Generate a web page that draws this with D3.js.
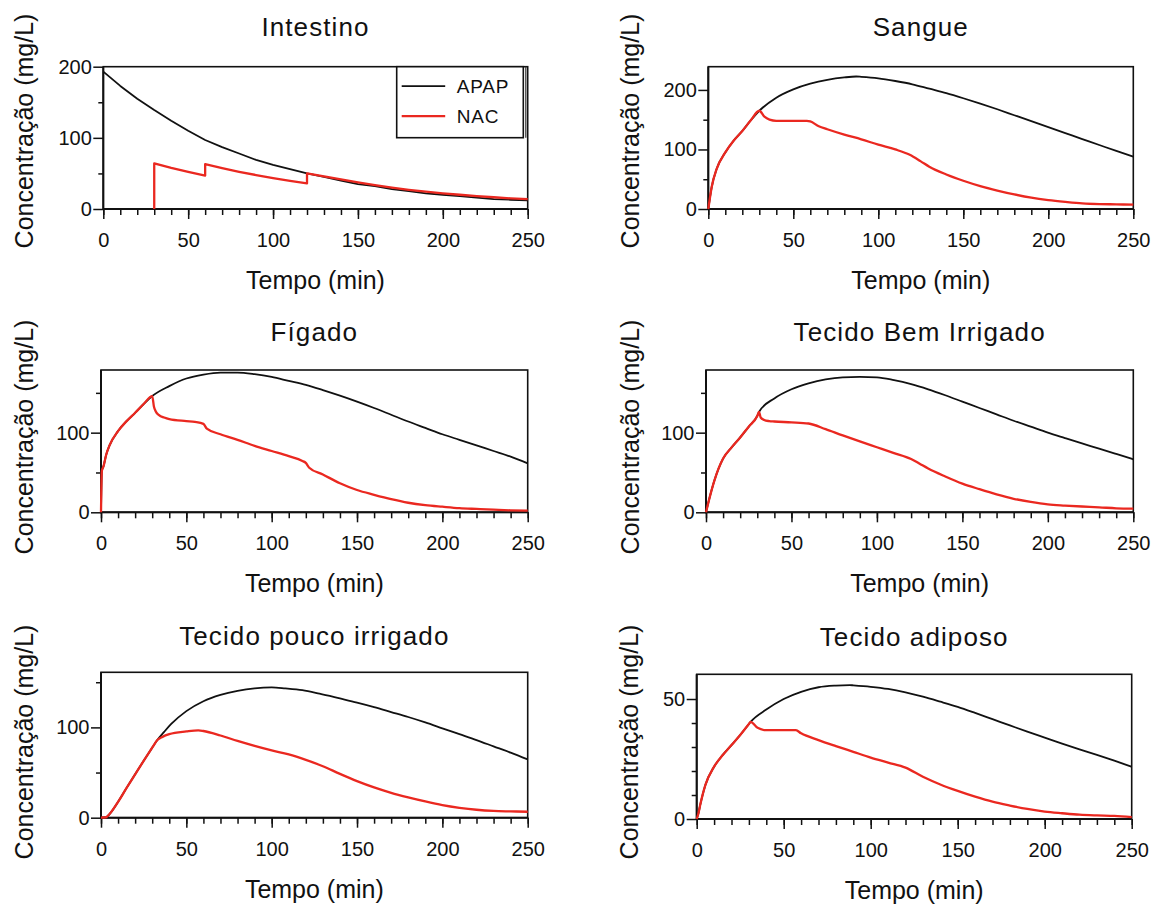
<!DOCTYPE html>
<html>
<head>
<meta charset="utf-8">
<script src="https://cdn.jsdelivr.net/npm/d3@7"></script>
<style>
  body { margin: 0; background: #fff; }
  svg text { font-family: "Liberation Sans", Arial, sans-serif; fill: #111; }
  .tick text { font-size: 20px; }
  .tick line { stroke: #111; stroke-width: 1.5; }
</style>
</head>
<body>
<svg id="chart" width="1162" height="909"></svg>
<script>
// Time axis ticks (min)
const timeTicks = [0, 50, 100, 150, 200, 250];
const minorTimeTicks = [0, 10, 20, 30, 40, 50, 60, 70, 80, 90, 100, 110, 120, 130, 140, 150,
                        160, 170, 180, 190, 200, 210, 220, 230, 240, 250];

// Concentration curves, [tempo (min), concentração (mg/L)]
const intestinoApap = [[0,193],[10,173],[20,155],[30,139],[40,124],[50,110],[60,97],[70,87],[80,78],
  [90,69],[100,62],[110,56],[120,50],[130,45],[140,40],[150,35],[160,32],[170,28],[180,25],[190,22],
  [200,20],[210,18],[220,16],[230,14],[240,13],[250,12]];
const intestinoNac = [[30,0],[30,64],[40,57.7],[50,52.1],[60,47],[60,63],[70,57.4],[80,52.3],[90,47.7],
  [100,43.5],[110,39.6],[120,36],[120,50],[130,46],[140,41.5],[150,37.5],[160,33.5],[170,30],[180,27],
  [190,24.5],[200,22],[210,20],[220,18],[230,16.5],[240,15],[250,14]];

const sangueApap = [[0,0],[2,37],[5,68],[10,95],[15,115],[20,131],[25,149],[30,165],[40,187],[50,201],
  [60,210.5],[70,217],[80,221],[87,222.5],[90,222],[100,219.5],[110,215],[120,209.5],[130,202],
  [140,194.5],[150,186],[160,177],[170,167.5],[180,157.5],[190,147.5],[200,137.5],[210,127.5],
  [220,117.5],[230,107.5],[240,97.5],[250,88]];
const sangueNac = [[0,0],[2,37],[5,68],[10,95],[15,115],[20,131],[25,149],[30,165],[33,155],[36,150],
  [40,148],[50,148],[58,148],[60,147],[65,139],[70,134],[80,125],[90,117],[100,108],[110,100],
  [118.5,91],[125,80],[130,71],[140,58],[150,47.5],[160,38.5],[170,31],[180,24.5],[190,19],[200,15],
  [210,12],[220,9.5],[230,8.3],[240,7.8],[250,7.2]];

const figadoApap = [[0,0],[0.5,52],[1.5,58],[3,72],[5,84],[10,102],[15,114.5],[20,125],[25,136],[30,146],
  [40,158.5],[50,168],[60,173],[70,175.5],[80,175.5],[90,173.5],[100,170],[110,165],[120,160],
  [130,153.5],[140,146.5],[150,139],[160,131],[170,122.5],[180,114],[190,106],[200,98],[210,91],
  [220,84],[230,77],[240,70],[250,61.5]];
const figadoNac = [[0,0],[0.5,52],[1.5,58],[3,72],[5,84],[10,102],[15,114.5],[20,125],[25,136],[30,146],
  [31,133],[32,127],[34,122],[37,119],[40,117],[50,114.5],[55,113.5],[60,111],[62,105],[70,98],[80,91],
  [90,83.5],[100,77],[110,70.5],[118,64.5],[120,62],[122,56],[130,47.5],[140,36.5],[150,28],[160,22],
  [170,16.5],[180,12],[190,9],[200,7],[210,5.2],[220,4.2],[230,3.3],[240,2.5],[250,2]];

const bemIrrigadoApap = [[0,0],[2.3,20],[5,40.5],[10,67.5],[15,81.5],[20,94],[25,107.5],[30,121],[31,126],
  [40,143],[50,154.5],[60,162],[70,167],[80,169.5],[90,170],[100,169.5],[110,166],[120,161],[130,154.5],
  [140,147],[150,139],[160,131],[170,123],[180,115],[190,107.5],[200,100],[210,93.2],[220,86.5],
  [230,80],[240,73.3],[250,66.5]];
const bemIrrigadoNac = [[0,0],[2.3,20],[5,40.5],[10,67.5],[15,81.5],[20,94],[25,107.5],[30,121],[31,126],
  [32,119],[34,116],[37,114.5],[40,114],[50,113],[60,111.5],[70,104.4],[80,96.5],[90,89],[100,81.7],
  [110,74.4],[120,67],[125,61],[130,55],[140,45],[150,36],[160,29],[170,22.5],[180,17],[190,13],
  [200,10],[210,8.5],[220,7.3],[230,6.3],[240,5],[250,4.5]];

const poucoIrrigadoApap = [[0,0],[3,0.5],[5,4],[10,17.5],[15,33],[20,48],[25,63],[30,77.5],[33,86],
  [37,95],[41,103.5],[50,118],[60,129],[70,136],[80,140.5],[90,143.3],[100,144.3],[108,143.2],
  [118,141.2],[128,137.3],[140,132],[150,127.5],[160,122.5],[170,117],[180,111.5],[190,105.5],
  [200,99],[210,92.5],[220,86],[230,79],[240,72],[250,64.5]];
const poucoIrrigadoNac = [[0,0],[3,0.5],[5,4],[10,17.5],[15,33],[20,48],[25,63],[30,77.5],[33,86],
  [36,89.5],[40,92.5],[50,95.5],[57,96.7],[60,96],[70,91],[80,85],[90,79.5],[100,74.5],[110,70],[120,64],
  [130,57],[140,48.5],[150,40.5],[160,33.5],[170,27.5],[180,22.5],[190,18],[200,14],[210,11],
  [220,8.8],[230,7.5],[240,7],[250,6.6]];

const adiposoApap = [[0,0],[1,2.4],[2,5.8],[5,14.2],[10,21.8],[15,26.7],[20,30.8],[25,35],[30,39.6],[31,40.5],
  [40,45.6],[50,50],[60,53],[70,54.9],[80,55.6],[88,55.8],[90,55.7],[100,55.1],[110,54.2],[120,52.8],
  [130,51],[140,48.9],[150,46.7],[160,44.2],[170,41.6],[180,39],[190,36.4],[200,33.9],[210,31.4],
  [220,29],[230,26.7],[240,24.3],[250,21.8]];
const adiposoNac = [[0,0],[1,2.4],[2,5.8],[5,14.2],[10,21.8],[15,26.7],[20,30.8],[25,35],[30,39.6],[31,40.5],
  [35,38],[40,37],[50,37],[57,37],[60,35.7],[70,32.9],[80,30.4],[90,28],[100,25.6],[110,23.5],[120,21.4],
  [130,17.6],[140,14.4],[150,11.7],[160,9.3],[170,7.2],[180,5.6],[190,4.2],[200,3.1],[210,2.4],
  [220,1.8],[230,1.5],[240,1.3],[250,0.8]];

const seriesNames = ["APAP", "NAC"];
const seriesColors = ["#111111", "#ea2820"];

// Panel layout: plot box [left, right, top, bottom] in px, y-axis extent and ticks
const panels = [
  { title: "Intestino", apap: intestinoApap, nac: intestinoNac, yMax: 200,
    yMajor: [0, 100, 200], yMinor: [50, 150], box: [103.3, 527.7, 66.7, 209],
    curve: d3.curveLinear, titleY: 36, ylab: [33, 131], legend: true },
  { title: "Sangue", apap: sangueApap, nac: sangueNac, yMax: 239,
    yMajor: [0, 100, 200], yMinor: [50, 150], box: [708.3, 1133.3, 66.7, 209],
    curve: d3.curveMonotoneX, titleY: 36, ylab: [639, 131] },
  { title: "Fígado", apap: figadoApap, nac: figadoNac, yMax: 178.7,
    yMajor: [0, 100], yMinor: [50, 150], box: [101, 527.7, 370, 512.3],
    curve: d3.curveMonotoneX, titleY: 341, ylab: [33, 437] },
  { title: "Tecido Bem Irrigado", apap: bemIrrigadoApap, nac: bemIrrigadoNac, yMax: 178.7,
    yMajor: [0, 100], yMinor: [50, 150], box: [706, 1133.3, 370, 512.3],
    curve: d3.curveMonotoneX, titleY: 341, ylab: [639, 437] },
  { title: "Tecido pouco irrigado", apap: poucoIrrigadoApap, nac: poucoIrrigadoNac, yMax: 161,
    yMajor: [0, 100], yMinor: [50, 150], box: [101, 527.7, 672.3, 817.7],
    curve: d3.curveMonotoneX, titleY: 645, ylab: [33, 742] },
  { title: "Tecido adiposo", apap: adiposoApap, nac: adiposoNac, yMax: 60.3,
    yMajor: [0, 50], yMinor: [10, 20, 30, 40], box: [696.7, 1131.7, 674.3, 819],
    curve: d3.curveMonotoneX, titleY: 646, ylab: [638, 742] }
];

const svg = d3.select("#chart");

panels.forEach(p => {
  const [x0, x1, yT, yB] = p.box;
  const x = d3.scaleLinear().domain([0, 250]).range([x0, x1]);
  const y = d3.scaleLinear().domain([0, p.yMax]).range([yB, yT]);
  const g = svg.append("g");

  // minor ticks
  g.append("g").attr("transform", `translate(0,${yB})`)
    .call(d3.axisBottom(x).tickValues(minorTimeTicks).tickSize(6).tickFormat(""))
    .call(a => a.select(".domain").remove());
  g.append("g").attr("transform", `translate(${x0},0)`)
    .call(d3.axisLeft(y).tickValues(p.yMinor).tickSize(5).tickFormat(""))
    .call(a => a.select(".domain").remove());

  // labelled ticks
  g.append("g").attr("transform", `translate(0,${yB})`)
    .call(d3.axisBottom(x).tickValues(timeTicks).tickSize(10).tickPadding(14).tickFormat(d3.format("d")))
    .call(a => a.select(".domain").remove())
    .attr("font-size", null).attr("font-family", null);
  g.append("g").attr("transform", `translate(${x0},0)`)
    .call(d3.axisLeft(y).tickValues(p.yMajor).tickSize(10).tickPadding(1.5).tickFormat(d3.format("d")))
    .call(a => a.select(".domain").remove())
    .attr("font-size", null).attr("font-family", null);

  // plot frame
  g.append("rect")
    .attr("x", x0).attr("y", yT).attr("width", x1 - x0).attr("height", yB - yT)
    .attr("fill", "none").attr("stroke", "#111").attr("stroke-width", 1.6);
  g.append("path")
    .attr("d", `M${x0},${yT}V${yB}H${x1}`)
    .attr("fill", "none").attr("stroke", "#111").attr("stroke-width", 2);

  // curves
  const line = d3.line().x(d => x(d[0])).y(d => y(d[1])).curve(p.curve);
  [p.apap, p.nac].forEach((data, i) => {
    g.append("path").datum(data)
      .attr("d", line)
      .attr("fill", "none")
      .attr("stroke", seriesColors[i])
      .attr("stroke-width", i === 0 ? 1.8 : 2.3)
      .attr("stroke-linejoin", "round");
  });

  // titles
  g.append("text")
    .attr("x", (x0 + x1) / 2).attr("y", p.titleY)
    .attr("text-anchor", "middle").attr("font-size", 26)
    .attr("letter-spacing", 1.1)
    .text(p.title);
  g.append("text")
    .attr("x", (x0 + x1) / 2).attr("y", yB + 80)
    .attr("text-anchor", "middle").attr("font-size", 25)
    .text("Tempo (min)");
  g.append("text")
    .attr("transform", `translate(${p.ylab[0]},${p.ylab[1]}) rotate(-90)`)
    .attr("text-anchor", "middle").attr("font-size", 25)
    .text("Concentração (mg/L)");

  // legend
  if (p.legend) {
    const lx = 396.7, ly = yT, lw = 126.6, lh = 71;
    const lg = g.append("g");
    lg.append("rect").attr("x", lx).attr("y", ly).attr("width", lw).attr("height", lh)
      .attr("fill", "#fff").attr("stroke", "#111").attr("stroke-width", 1.6);
    lg.append("line").attr("x1", lx + lw + 2.5).attr("x2", lx + lw + 2.5)
      .attr("y1", ly).attr("y2", ly + lh).attr("stroke", "#333").attr("stroke-width", 1.2);
    seriesNames.forEach((name, i) => {
      const yy = ly + 19.5 + i * 30;
      lg.append("line").attr("x1", lx + 5).attr("x2", lx + 48.5)
        .attr("y1", yy).attr("y2", yy)
        .attr("stroke", seriesColors[i]).attr("stroke-width", i === 0 ? 1.8 : 2.3);
      lg.append("text").attr("x", lx + 60).attr("y", yy + 7)
        .attr("font-size", 19).attr("letter-spacing", 0.8)
        .text(name);
    });
  }
});
</script>
</body>
</html>
